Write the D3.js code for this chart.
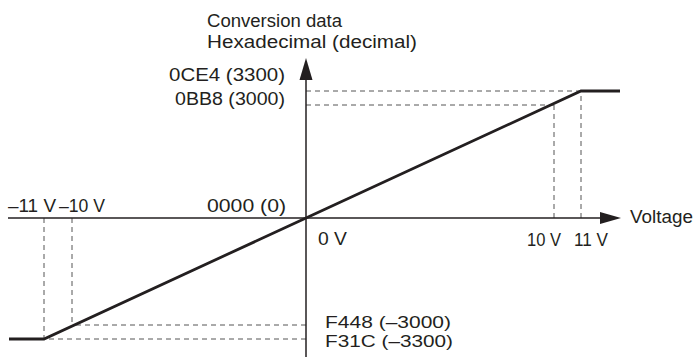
<!DOCTYPE html>
<html><head><meta charset="utf-8">
<script src="https://cdn.jsdelivr.net/npm/d3@7"></script>
<style>
body{margin:0;background:#fff}
svg{display:block}
text{font-family:"Liberation Sans",Arial,Helvetica,sans-serif;font-size:17.5px;fill:#231f20}
</style>
</head><body>
<svg id="c" width="694" height="363"></svg>
<script>
// ---- data ----
const voltage    = [-12.3, -11, 0, 11, 12.5];
const conversion = [-3300, -3300, 0, 3300, 3300];
const xMarks = [-11, -10, 10, 11];
const xMarkValues = [-3300, -3000, 3000, 3300];
const xMarkLabels = ["\u201311 V", "\u201310 V", "10 V", "11 V"];
const yMarks = [3300, 3000, -3000, -3300];
const yMarkVoltages = [11, 10, -10, -11];
const yMarkLabels = ["0CE4 (3300)", "0BB8 (3000)", "F448 (\u20133000)", "F31C (\u20133300)"];
const originXLabel = "0 V";
const originYLabel = "0000 (0)";
const xTitle = "Voltage";
const yTitle = ["Conversion data", "Hexadecimal (decimal)"];

// ---- scales ----
const x = d3.scaleLinear().domain([-12.3, -11, -10, 0, 10, 11, 12.5]).range([9, 44, 72, 306, 554, 581, 620]);
const y = d3.scaleLinear().domain([-3300, -3000, 0, 3000, 3300]).range([339, 325, 218, 105, 91]);

const svg = d3.select("#c");
const ink = "#231f20";
const x0 = x(0), y0 = y(0);

// dashed guides
const g = svg.append("g").attr("stroke", "#555").attr("stroke-width", 1).attr("stroke-dasharray", "5,4").attr("fill", "none");
xMarks.forEach((v, i) => {
  g.append("line").attr("x1", x(v)).attr("x2", x(v)).attr("y1", y0).attr("y2", y(xMarkValues[i]));
});
yMarks.forEach((v, i) => {
  g.append("line").attr("x1", x0).attr("x2", x(yMarkVoltages[i])).attr("y1", y(v)).attr("y2", y(v));
});

// axes
svg.append("line").attr("x1", 8).attr("x2", 605).attr("y1", y0).attr("y2", y0).attr("stroke", ink).attr("stroke-width", 1.5);
svg.append("line").attr("x1", x0).attr("x2", x0).attr("y1", 357).attr("y2", 75).attr("stroke", ink).attr("stroke-width", 1.5);
svg.append("path").attr("d", `M621,${y0}L600,${y0 - 6}L600,${y0 + 6}Z`).attr("fill", ink);
svg.append("path").attr("d", `M${x0},58L${x0 - 6.5},80L${x0 + 6.5},80Z`).attr("fill", ink);

// conversion line
svg.append("path").datum(voltage.map((v, i) => [v, conversion[i]]))
  .attr("d", d3.line().x(d => x(d[0])).y(d => y(d[1])))
  .attr("fill", "none").attr("stroke", ink).attr("stroke-width", 2.8).attr("stroke-linejoin", "miter");

// texts
function label(txt, x1, x2, base, size) {
  const t = svg.append("text").attr("x", x1).attr("y", base)
    .attr("textLength", x2 - x1).attr("lengthAdjust", "spacingAndGlyphs").text(txt);
  if (size) t.style("font-size", size + "px");
}
label(yTitle[0], 207, 342, 27);
label(yTitle[1], 207, 417, 48);
label(yMarkLabels[0], 169, 285, 81);
label(yMarkLabels[1], 175, 285, 105);
label(yMarkLabels[2], 325, 451, 328, 16.5);
label(yMarkLabels[3], 325, 453, 347, 16.5);
label(xMarkLabels[0], 8, 56, 212);
label(xMarkLabels[1], 59, 105, 212);
label(xMarkLabels[2], 527, 561, 246);
label(xMarkLabels[3], 574, 608, 246);
label(originYLabel, 207, 286, 212);
label(originXLabel, 318, 347, 245);
label(xTitle, 630, 693, 223);
</script>
</body></html>
